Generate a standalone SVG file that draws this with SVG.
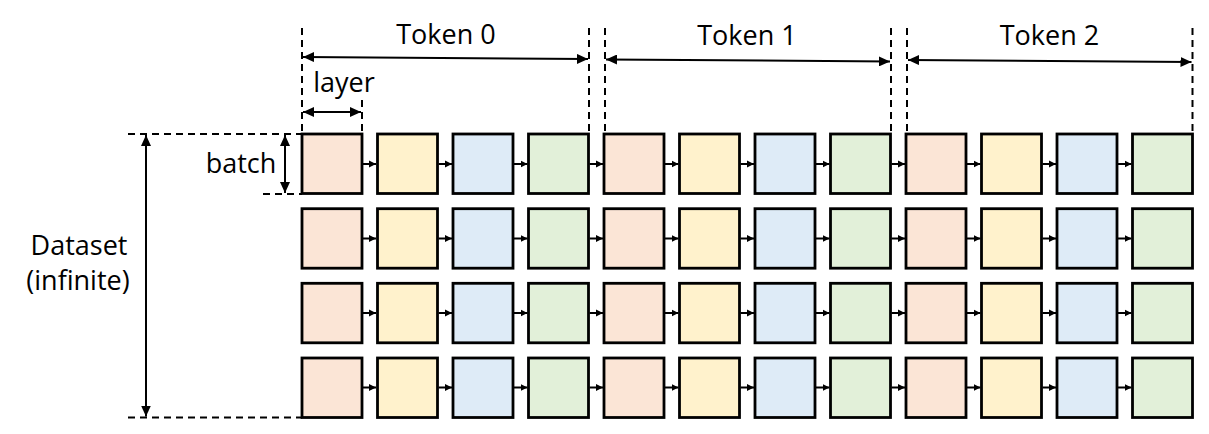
<svg xmlns="http://www.w3.org/2000/svg" width="1209" height="434" viewBox="0 0 1209 434">
<style>
.c{stroke:#000;stroke-width:2.8}
.p{fill:#FBE5D6}.y{fill:#FFF2CC}.b{fill:#DEEBF7}.g{fill:#E2F0D9}
.lk line{stroke:#000;stroke-width:2;marker-end:url(#sm)}
.dim{stroke:#000;stroke-width:2;fill:none;marker-start:url(#big);marker-end:url(#big)}
.dash{stroke:#000;stroke-width:2;stroke-dasharray:7,5;fill:none}
text{font-family:"Open Sans","Liberation Sans",sans-serif;font-size:27px;fill:#000}
</style>
<defs>
<marker id="sm" markerUnits="userSpaceOnUse" markerWidth="8" markerHeight="8" refX="7" refY="4" orient="auto"><path d="M0,0.5 L7,4 L0,7.5 z" fill="#000"/></marker>
<marker id="big" markerUnits="userSpaceOnUse" markerWidth="12" markerHeight="10" refX="11" refY="5" orient="auto-start-reverse"><path d="M0,0 L11,5 L0,10 z" fill="#000"/></marker>
</defs>
<g id="dimensions">
<path class="dash" d="M302,28V134M589,28V134M605,28V134M891,28V134M907,28V134M1192.5,28V134M362,100V134"/>
<path class="dash" d="M128,134H302M263,194H302M128,417.5H302"/>
<line class="dim" x1="303" y1="57" x2="588" y2="59"/>
<line class="dim" x1="606" y1="59.5" x2="890" y2="61.5"/>
<line class="dim" x1="908" y1="60" x2="1191.5" y2="62"/>
<line class="dim" x1="303" y1="112" x2="361" y2="112"/>
<line class="dim" x1="285" y1="135" x2="285" y2="193"/>
<line class="dim" x1="146" y1="135" x2="146" y2="416.5"/>
</g>
<g id="labels">
<text x="446" y="44" text-anchor="middle">Token 0</text>
<text x="747" y="45" text-anchor="middle">Token 1</text>
<text x="1049.5" y="45" text-anchor="middle">Token 2</text>
<text x="344" y="92" text-anchor="middle">layer</text>
<text x="241" y="173" text-anchor="middle">batch</text>
<text x="79" y="255" text-anchor="middle">Dataset</text>
<text x="78" y="290" text-anchor="middle">(infinite)</text>
</g>
<g id="connectors" class="lk">
<line x1="363" y1="164" x2="376" y2="164"/><line x1="438.5" y1="164" x2="452" y2="164"/><line x1="514" y1="164" x2="527.5" y2="164"/><line x1="589.5" y1="164" x2="603" y2="164"/><line x1="665" y1="164" x2="678.5" y2="164"/><line x1="740.5" y1="164" x2="754" y2="164"/><line x1="816" y1="164" x2="829.5" y2="164"/><line x1="891.5" y1="164" x2="905" y2="164"/><line x1="967" y1="164" x2="980.5" y2="164"/><line x1="1042.5" y1="164" x2="1056" y2="164"/><line x1="1118" y1="164" x2="1131.5" y2="164"/>
<line x1="363" y1="238.5" x2="376" y2="238.5"/><line x1="438.5" y1="238.5" x2="452" y2="238.5"/><line x1="514" y1="238.5" x2="527.5" y2="238.5"/><line x1="589.5" y1="238.5" x2="603" y2="238.5"/><line x1="665" y1="238.5" x2="678.5" y2="238.5"/><line x1="740.5" y1="238.5" x2="754" y2="238.5"/><line x1="816" y1="238.5" x2="829.5" y2="238.5"/><line x1="891.5" y1="238.5" x2="905" y2="238.5"/><line x1="967" y1="238.5" x2="980.5" y2="238.5"/><line x1="1042.5" y1="238.5" x2="1056" y2="238.5"/><line x1="1118" y1="238.5" x2="1131.5" y2="238.5"/>
<line x1="363" y1="313" x2="376" y2="313"/><line x1="438.5" y1="313" x2="452" y2="313"/><line x1="514" y1="313" x2="527.5" y2="313"/><line x1="589.5" y1="313" x2="603" y2="313"/><line x1="665" y1="313" x2="678.5" y2="313"/><line x1="740.5" y1="313" x2="754" y2="313"/><line x1="816" y1="313" x2="829.5" y2="313"/><line x1="891.5" y1="313" x2="905" y2="313"/><line x1="967" y1="313" x2="980.5" y2="313"/><line x1="1042.5" y1="313" x2="1056" y2="313"/><line x1="1118" y1="313" x2="1131.5" y2="313"/>
<line x1="363" y1="387.5" x2="376" y2="387.5"/><line x1="438.5" y1="387.5" x2="452" y2="387.5"/><line x1="514" y1="387.5" x2="527.5" y2="387.5"/><line x1="589.5" y1="387.5" x2="603" y2="387.5"/><line x1="665" y1="387.5" x2="678.5" y2="387.5"/><line x1="740.5" y1="387.5" x2="754" y2="387.5"/><line x1="816" y1="387.5" x2="829.5" y2="387.5"/><line x1="891.5" y1="387.5" x2="905" y2="387.5"/><line x1="967" y1="387.5" x2="980.5" y2="387.5"/><line x1="1042.5" y1="387.5" x2="1056" y2="387.5"/><line x1="1118" y1="387.5" x2="1131.5" y2="387.5"/>
</g>
<g id="row1">
<g id="r1c1"><rect class="c p" x="302" y="134" width="60" height="59.5"/></g>
<g id="r1c2"><rect class="c y" x="377.5" y="134" width="60" height="59.5"/></g>
<g id="r1c3"><rect class="c b" x="453" y="134" width="60" height="59.5"/></g>
<g id="r1c4"><rect class="c g" x="528.5" y="134" width="60" height="59.5"/></g>
<g id="r1c5"><rect class="c p" x="604" y="134" width="60" height="59.5"/></g>
<g id="r1c6"><rect class="c y" x="679.5" y="134" width="60" height="59.5"/></g>
<g id="r1c7"><rect class="c b" x="755" y="134" width="60" height="59.5"/></g>
<g id="r1c8"><rect class="c g" x="830.5" y="134" width="60" height="59.5"/></g>
<g id="r1c9"><rect class="c p" x="906" y="134" width="60" height="59.5"/></g>
<g id="r1c10"><rect class="c y" x="981.5" y="134" width="60" height="59.5"/></g>
<g id="r1c11"><rect class="c b" x="1057" y="134" width="60" height="59.5"/></g>
<g id="r1c12"><rect class="c g" x="1132.5" y="134" width="60" height="59.5"/></g>
</g>
<g id="row2">
<g id="r2c1"><rect class="c p" x="302" y="208.7" width="60" height="59.5"/></g>
<g id="r2c2"><rect class="c y" x="377.5" y="208.7" width="60" height="59.5"/></g>
<g id="r2c3"><rect class="c b" x="453" y="208.7" width="60" height="59.5"/></g>
<g id="r2c4"><rect class="c g" x="528.5" y="208.7" width="60" height="59.5"/></g>
<g id="r2c5"><rect class="c p" x="604" y="208.7" width="60" height="59.5"/></g>
<g id="r2c6"><rect class="c y" x="679.5" y="208.7" width="60" height="59.5"/></g>
<g id="r2c7"><rect class="c b" x="755" y="208.7" width="60" height="59.5"/></g>
<g id="r2c8"><rect class="c g" x="830.5" y="208.7" width="60" height="59.5"/></g>
<g id="r2c9"><rect class="c p" x="906" y="208.7" width="60" height="59.5"/></g>
<g id="r2c10"><rect class="c y" x="981.5" y="208.7" width="60" height="59.5"/></g>
<g id="r2c11"><rect class="c b" x="1057" y="208.7" width="60" height="59.5"/></g>
<g id="r2c12"><rect class="c g" x="1132.5" y="208.7" width="60" height="59.5"/></g>
</g>
<g id="row3">
<g id="r3c1"><rect class="c p" x="302" y="283.3" width="60" height="59.5"/></g>
<g id="r3c2"><rect class="c y" x="377.5" y="283.3" width="60" height="59.5"/></g>
<g id="r3c3"><rect class="c b" x="453" y="283.3" width="60" height="59.5"/></g>
<g id="r3c4"><rect class="c g" x="528.5" y="283.3" width="60" height="59.5"/></g>
<g id="r3c5"><rect class="c p" x="604" y="283.3" width="60" height="59.5"/></g>
<g id="r3c6"><rect class="c y" x="679.5" y="283.3" width="60" height="59.5"/></g>
<g id="r3c7"><rect class="c b" x="755" y="283.3" width="60" height="59.5"/></g>
<g id="r3c8"><rect class="c g" x="830.5" y="283.3" width="60" height="59.5"/></g>
<g id="r3c9"><rect class="c p" x="906" y="283.3" width="60" height="59.5"/></g>
<g id="r3c10"><rect class="c y" x="981.5" y="283.3" width="60" height="59.5"/></g>
<g id="r3c11"><rect class="c b" x="1057" y="283.3" width="60" height="59.5"/></g>
<g id="r3c12"><rect class="c g" x="1132.5" y="283.3" width="60" height="59.5"/></g>
</g>
<g id="row4">
<g id="r4c1"><rect class="c p" x="302" y="358" width="60" height="59.5"/></g>
<g id="r4c2"><rect class="c y" x="377.5" y="358" width="60" height="59.5"/></g>
<g id="r4c3"><rect class="c b" x="453" y="358" width="60" height="59.5"/></g>
<g id="r4c4"><rect class="c g" x="528.5" y="358" width="60" height="59.5"/></g>
<g id="r4c5"><rect class="c p" x="604" y="358" width="60" height="59.5"/></g>
<g id="r4c6"><rect class="c y" x="679.5" y="358" width="60" height="59.5"/></g>
<g id="r4c7"><rect class="c b" x="755" y="358" width="60" height="59.5"/></g>
<g id="r4c8"><rect class="c g" x="830.5" y="358" width="60" height="59.5"/></g>
<g id="r4c9"><rect class="c p" x="906" y="358" width="60" height="59.5"/></g>
<g id="r4c10"><rect class="c y" x="981.5" y="358" width="60" height="59.5"/></g>
<g id="r4c11"><rect class="c b" x="1057" y="358" width="60" height="59.5"/></g>
<g id="r4c12"><rect class="c g" x="1132.5" y="358" width="60" height="59.5"/></g>
</g>
</svg>
